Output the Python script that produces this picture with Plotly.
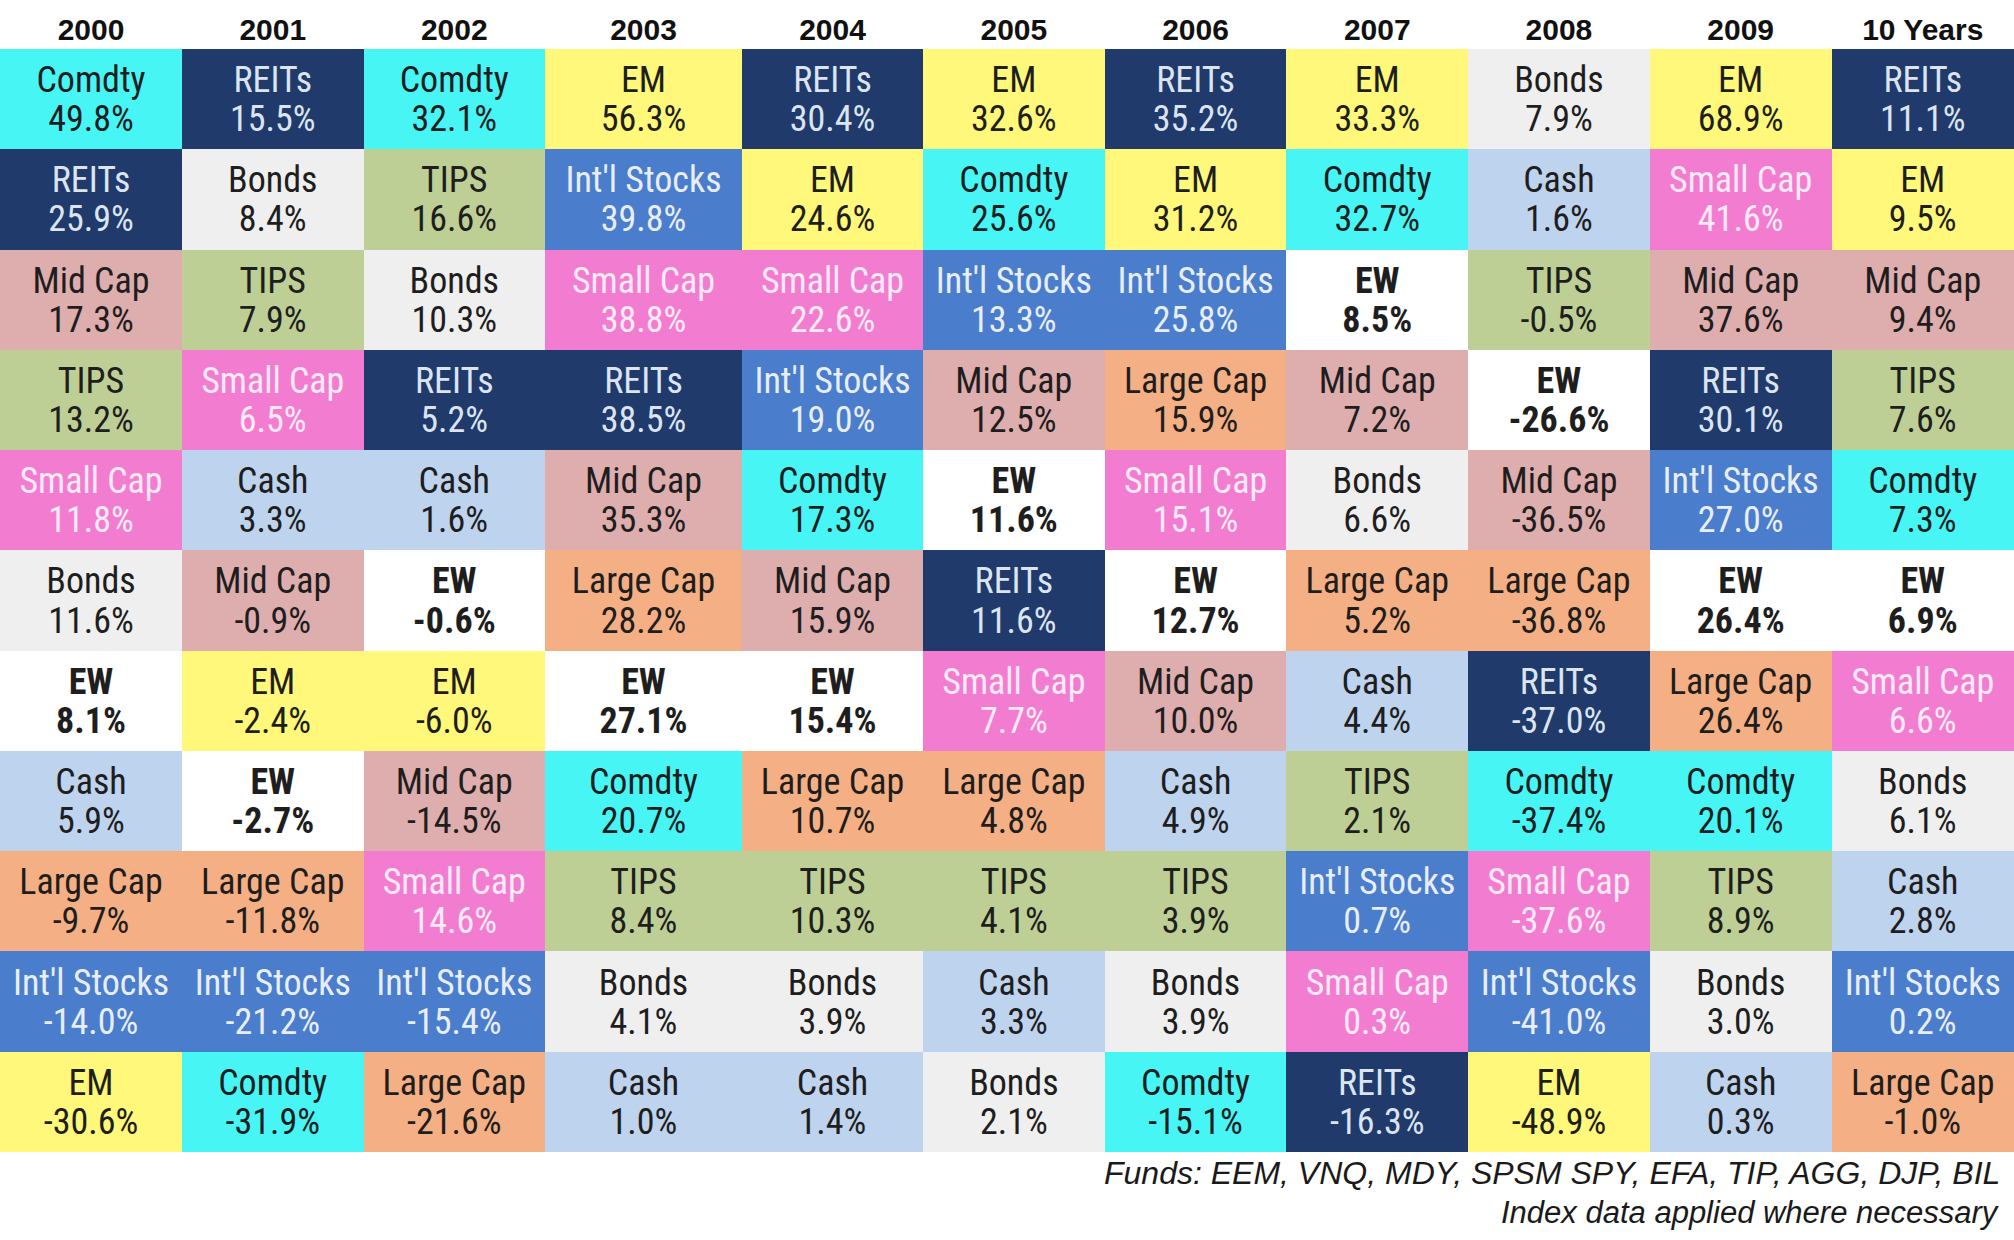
import plotly.graph_objects as go

# ---------------- data ----------------
years = ["2000", "2001", "2002", "2003", "2004", "2005", "2006", "2007", "2008", "2009", "10 Years"]

names_2000 = ["Comdty", "REITs", "Mid Cap", "TIPS", "Small Cap", "Bonds", "EW", "Cash", "Large Cap", "Int'l Stocks", "EM"]
vals_2000 = [49.8, 25.9, 17.3, 13.2, 11.8, 11.6, 8.1, 5.9, -9.7, -14.0, -30.6]

names_2001 = ["REITs", "Bonds", "TIPS", "Small Cap", "Cash", "Mid Cap", "EM", "EW", "Large Cap", "Int'l Stocks", "Comdty"]
vals_2001 = [15.5, 8.4, 7.9, 6.5, 3.3, -0.9, -2.4, -2.7, -11.8, -21.2, -31.9]

names_2002 = ["Comdty", "TIPS", "Bonds", "REITs", "Cash", "EW", "EM", "Mid Cap", "Small Cap", "Int'l Stocks", "Large Cap"]
vals_2002 = [32.1, 16.6, 10.3, 5.2, 1.6, -0.6, -6.0, -14.5, 14.6, -15.4, -21.6]

names_2003 = ["EM", "Int'l Stocks", "Small Cap", "REITs", "Mid Cap", "Large Cap", "EW", "Comdty", "TIPS", "Bonds", "Cash"]
vals_2003 = [56.3, 39.8, 38.8, 38.5, 35.3, 28.2, 27.1, 20.7, 8.4, 4.1, 1.0]

names_2004 = ["REITs", "EM", "Small Cap", "Int'l Stocks", "Comdty", "Mid Cap", "EW", "Large Cap", "TIPS", "Bonds", "Cash"]
vals_2004 = [30.4, 24.6, 22.6, 19.0, 17.3, 15.9, 15.4, 10.7, 10.3, 3.9, 1.4]

names_2005 = ["EM", "Comdty", "Int'l Stocks", "Mid Cap", "EW", "REITs", "Small Cap", "Large Cap", "TIPS", "Cash", "Bonds"]
vals_2005 = [32.6, 25.6, 13.3, 12.5, 11.6, 11.6, 7.7, 4.8, 4.1, 3.3, 2.1]

names_2006 = ["REITs", "EM", "Int'l Stocks", "Large Cap", "Small Cap", "EW", "Mid Cap", "Cash", "TIPS", "Bonds", "Comdty"]
vals_2006 = [35.2, 31.2, 25.8, 15.9, 15.1, 12.7, 10.0, 4.9, 3.9, 3.9, -15.1]

names_2007 = ["EM", "Comdty", "EW", "Mid Cap", "Bonds", "Large Cap", "Cash", "TIPS", "Int'l Stocks", "Small Cap", "REITs"]
vals_2007 = [33.3, 32.7, 8.5, 7.2, 6.6, 5.2, 4.4, 2.1, 0.7, 0.3, -16.3]

names_2008 = ["Bonds", "Cash", "TIPS", "EW", "Mid Cap", "Large Cap", "REITs", "Comdty", "Small Cap", "Int'l Stocks", "EM"]
vals_2008 = [7.9, 1.6, -0.5, -26.6, -36.5, -36.8, -37.0, -37.4, -37.6, -41.0, -48.9]

names_2009 = ["EM", "Small Cap", "Mid Cap", "REITs", "Int'l Stocks", "EW", "Large Cap", "Comdty", "TIPS", "Bonds", "Cash"]
vals_2009 = [68.9, 41.6, 37.6, 30.1, 27.0, 26.4, 26.4, 20.1, 8.9, 3.0, 0.3]

names_10y = ["REITs", "EM", "Mid Cap", "TIPS", "Comdty", "EW", "Small Cap", "Bonds", "Cash", "Int'l Stocks", "Large Cap"]
vals_10y = [11.1, 9.5, 9.4, 7.6, 7.3, 6.9, 6.6, 6.1, 2.8, 0.2, -1.0]

footnote_1 = "Funds: EEM, VNQ, MDY, SPSM SPY, EFA, TIP, AGG, DJP, BIL"
footnote_2 = "Index data applied where necessary"

# ---------------- styling ----------------
categories = ["Comdty", "REITs", "EM", "Int'l Stocks", "Small Cap", "Mid Cap",
              "TIPS", "Bonds", "Cash", "Large Cap", "EW"]
fill = {
    "Comdty": "#48F5F5",
    "REITs": "#1F3A6B",
    "EM": "#FFF87A",
    "Int'l Stocks": "#4A7DCB",
    "Small Cap": "#F27DD0",
    "Mid Cap": "#DEADAD",
    "TIPS": "#BDCF95",
    "Bonds": "#EFEFEF",
    "Cash": "#BED3EE",
    "Large Cap": "#F5AF84",
    "EW": "#FFFFFF",
}
ink = {
    "REITs": "#DCE4F0",
    "Int'l Stocks": "#E8EEF8",
    "Small Cap": "#FCEAF7",
}
DARK = "#1E1E1E"

col_names = [names_2000, names_2001, names_2002, names_2003, names_2004, names_2005,
             names_2006, names_2007, names_2008, names_2009, names_10y]
col_vals = [vals_2000, vals_2001, vals_2002, vals_2003, vals_2004, vals_2005,
            vals_2006, vals_2007, vals_2008, vals_2009, vals_10y]

W, H = 2014, 1240
TOP, BOTTOM = 49, 1152
col_widths = [182, 181.5, 181.5, 197, 181, 181.7, 181.7, 181.7, 181.7, 181.7, 182.5]
edges = [0.0]
for w in col_widths:
    edges.append(edges[-1] + w)
centers = [(edges[i] + edges[i + 1]) / 2 for i in range(len(col_widths))]
nrows = len(names_2000)
row_px = (BOTTOM - TOP) / nrows


def px_to_row(py):
    return (py - TOP) / row_px


# heatmap z: category index per cell (rows x cols)
z = [[categories.index(col_names[c][r]) for c in range(len(years))] for r in range(nrows)]
n = len(categories)
cscale = []
for i, cat in enumerate(categories):
    cscale.append([i / n, fill[cat]])
    cscale.append([(i + 1) / n, fill[cat]])

fig = go.Figure()
fig.add_trace(go.Heatmap(
    z=z, x=edges, y=list(range(nrows + 1)),
    colorscale=cscale, zmin=-0.5, zmax=n - 0.5,
    showscale=False, hoverinfo="skip", xgap=0, ygap=0,
))

lx, ly, lt, lc = [], [], [], []
vx, vy, vt = [], [], []
for c in range(len(years)):
    for r in range(nrows):
        nm = col_names[c][r]
        v = col_vals[c][r]
        bold = nm == "EW"
        lx.append(centers[c]); ly.append(r + 0.34)
        lt.append(f"<b>{nm}</b>" if bold else nm)
        vx.append(centers[c]); vy.append(r + 0.73)
        s = f"{v:.1f}%"
        vt.append(f"<b>{s}</b>" if bold else s)
        lc.append(ink.get(nm, DARK))

CELL_FONT = "Roboto Condensed, Liberation Sans Narrow, Arial Narrow, sans-serif"
fig.add_trace(go.Scatter(x=lx, y=ly, text=lt, mode="text", textposition="middle center",
                         textfont=dict(family=CELL_FONT, size=36, color=lc),
                         hoverinfo="skip", cliponaxis=False, showlegend=False))
fig.add_trace(go.Scatter(x=vx, y=vy, text=vt, mode="text", textposition="middle center",
                         textfont=dict(family=CELL_FONT, size=36, color=lc),
                         hoverinfo="skip", cliponaxis=False, showlegend=False))

# header row
fig.add_trace(go.Scatter(x=centers, y=[px_to_row(32)] * len(years),
                         text=[f"<b>{y}</b>" for y in years], mode="text",
                         textposition="middle center",
                         textfont=dict(family="Liberation Sans, Arial", size=30, color="#111111"),
                         hoverinfo="skip", cliponaxis=False, showlegend=False))

for txt, py, fs in [(footnote_1, 1173, 32), (footnote_2, 1212, 31)]:
    fig.add_annotation(text=f"<i>{txt}</i>", x=edges[-1], xref="x", xanchor="right", xshift=-12,
                       y=px_to_row(py), yref="y", yanchor="middle", showarrow=False,
                       font=dict(family="Liberation Sans, Arial", size=fs, color="#1A1A1A"))

fig.update_layout(
    width=W, height=H,
    margin=dict(l=0, r=0, t=0, b=0, pad=0),
    paper_bgcolor="white", plot_bgcolor="white",
    showlegend=False,
    xaxis=dict(range=[edges[0], edges[-1]], visible=False, fixedrange=True),
    yaxis=dict(range=[px_to_row(H), px_to_row(0)], visible=False, fixedrange=True),
)

fig.write_html("out.html", config={"displayModeBar": False},
               post_script="document.body.style.margin='0';")
